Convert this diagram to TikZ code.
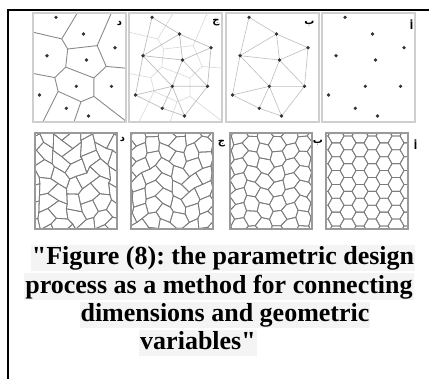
\documentclass[tikz,border=0pt]{standalone}
\usepackage{fontspec}
\setmainfont{Liberation Serif}[Ligatures=TeXOff]
\newfontfamily\arabicfont[Script=Arabic]{DejaVu Sans}
\TeXXeTstate=1
\frenchspacing
\definecolor{pframeA}{HTML}{CFCFCF}
\definecolor{pframeB}{HTML}{9A9A9A}
\definecolor{celline}{HTML}{7C7C7C}
\definecolor{vorline}{HTML}{8A8A8A}
\definecolor{delline}{HTML}{BDBDBD}
\definecolor{vorlight}{HTML}{DCDCDC}
\definecolor{dotcol}{HTML}{333333}
\definecolor{capfill}{HTML}{F4F4F4}
\tikzset{
  toppanel/.style={draw=pframeA,line width=1.1pt},
  botpanel/.style={draw=pframeB,line width=1.2pt},
  cell/.style={draw=celline,line width=0.8pt,line join=round},
  vorA/.style={draw=vorline,line width=0.9pt},
  vorB/.style={draw=vorlight,line width=0.7pt},
  delB/.style={draw=delline,line width=0.7pt},
  delC/.style={draw=delline,line width=0.6pt},
  dotty/.style={fill=dotcol},
  arlabel/.style={font=\arabicfont\bfseries\fontsize{10}{11}\selectfont,inner sep=0pt},
  capline/.style={font=\bfseries\fontsize{26}{28}\selectfont,fill=capfill,inner xsep=1pt,inner ysep=0pt,text height=20pt,text depth=6.5pt,anchor=base},
  border/.style={draw=black,line width=1.8pt}
}
% ---------- Voronoi / Delaunay data ----------
\newcommand\vorpts[1]{%
 \coordinate (#1p1) at (23,4.3);
 \coordinate (#1p2) at (50.5,21);
 \coordinate (#1p3) at (82,34.7);
 \coordinate (#1p4) at (14,42.7);
 \coordinate (#1p5) at (53.5,47);
 \coordinate (#1p6) at (43.3,73.3);
 \coordinate (#1p7) at (78.5,73.3);
 \coordinate (#1p8) at (6.5,82);
 \coordinate (#1p9) at (33.3,95.3);
 \coordinate (#1p10) at (55.5,103);
 \coordinate (#1c1) at (28.7,25.9);
 \coordinate (#1c2) at (34.7,36.0);
 \coordinate (#1c3) at (64.2,32.6);
 \coordinate (#1c4) at (73.2,53.4);
 \coordinate (#1c5) at (32.7,54.1);
 \coordinate (#1c6) at (60.9,65.0);
 \coordinate (#1c7) at (21.8,64.6);
 \coordinate (#1c8) at (25.1,78.3);
 \coordinate (#1c9) at (48.0,88.7);
 \coordinate (#1c10) at (60.9,83.4);
 \coordinate (#1r1) at (48.7,-7.1);
 \coordinate (#1r2) at (-9.7,16.9);
 \coordinate (#1r3) at (80.6,-5.2);
 \coordinate (#1r4) at (111.8,56.9);
 \coordinate (#1r5) at (105.5,117.9);
 \coordinate (#1r6) at (38.8,115.3);
 \coordinate (#1r7) at (5.15,118.5);
 \coordinate (#1r8) at (-17.5,57.1);
}
\newcommand\voredges[2]{%
 \draw[#2] (#1c1)--(#1c2) (#1c2)--(#1c3) (#1c3)--(#1c4) (#1c2)--(#1c5)
  (#1c5)--(#1c6) (#1c4)--(#1c6) (#1c5)--(#1c7) (#1c7)--(#1c8) (#1c6)--(#1c10)
  (#1c8)--(#1c9) (#1c9)--(#1c10)
  (#1c1)--(#1r1) (#1c1)--(#1r2) (#1c3)--(#1r3) (#1c4)--(#1r4) (#1c10)--(#1r5)
  (#1c9)--(#1r6) (#1c8)--(#1r7) (#1c7)--(#1r8);}
\newcommand\deledges[2]{%
 \draw[#2] (#1p1)--(#1p2) (#1p2)--(#1p3) (#1p3)--(#1p7) (#1p7)--(#1p10)
  (#1p10)--(#1p9) (#1p9)--(#1p8) (#1p8)--(#1p4) (#1p4)--(#1p1)
  (#1p2)--(#1p4) (#1p2)--(#1p5) (#1p3)--(#1p5) (#1p4)--(#1p5) (#1p5)--(#1p6)
  (#1p5)--(#1p7) (#1p4)--(#1p6) (#1p6)--(#1p8) (#1p6)--(#1p7) (#1p6)--(#1p9)
  (#1p6)--(#1p10);}
\newcommand\vordots[1]{%
 \foreach \k in {1,...,10} {\fill[dotty] (#1p\k) circle (1.8);}}
% ---------- jittered hexagon cells ----------
\newcommand\hzjit[2]{%
 \pgfmathsetmacro\hzjx{(#1)*\hzhu + \hzamp*sin(437.5453*sin((#1)*127.1+(#2)*311.7+\hzseed))}%
 \pgfmathsetmacro\hzjy{(#2)*\hzhv + \hzamp*sin(291.3711*sin((#1)*269.5+(#2)*183.3+\hzseed))}%
}
\newcommand\hzcell[2]{%
 \pgfmathtruncatemacro\hzcx{3*#1}%
 \pgfmathtruncatemacro\hzcy{2*#2+mod(#1,2)}%
 \pgfmathtruncatemacro\hzXa{\hzcx+2}%
 \pgfmathtruncatemacro\hzXb{\hzcx+1}%
 \pgfmathtruncatemacro\hzXc{\hzcx-1}%
 \pgfmathtruncatemacro\hzXd{\hzcx-2}%
 \pgfmathtruncatemacro\hzYa{\hzcy+1}%
 \pgfmathtruncatemacro\hzYb{\hzcy-1}%
 \hzjit{\hzXa}{\hzcy}\let\hzax\hzjx\let\hzay\hzjy
 \hzjit{\hzXb}{\hzYa}\let\hzbx\hzjx\let\hzby\hzjy
 \hzjit{\hzXc}{\hzYa}\let\hzccx\hzjx\let\hzccy\hzjy
 \hzjit{\hzXd}{\hzcy}\let\hzdx\hzjx\let\hzdy\hzjy
 \hzjit{\hzXc}{\hzYb}\let\hzex\hzjx\let\hzey\hzjy
 \hzjit{\hzXb}{\hzYb}\let\hzfx\hzjx\let\hzfy\hzjy
 \draw[cell] (\hzax,\hzay) -- (\hzbx,\hzby) -- (\hzccx,\hzccy) -- (\hzdx,\hzdy)
   -- (\hzex,\hzey) -- (\hzfx,\hzfy) -- cycle;}
\newcommand\hzpanel[6]{% x0, y0, R, amp, seed, grid offset x
 \begin{scope}[shift={(#1,#2)}]
  \begin{scope}
   \clip (0,0) rectangle (82,96);
   \pgfmathsetmacro\hzhu{#3/2}%
   \pgfmathsetmacro\hzhv{0.8660254*#3}%
   \def\hzamp{#4}\def\hzseed{#5}%
   \begin{scope}[shift={(#6,-4)}]
    \foreach \i in {0,...,8} {\foreach \j in {0,...,8} {\hzcell{\i}{\j}}}
   \end{scope}
  \end{scope}
  \draw[botpanel] (0,0) rectangle (82,96);
 \end{scope}}

\begin{document}
\begin{tikzpicture}[x=1pt,y=-1pt]
\useasboundingbox (0,0) rectangle (430,378);
% outer borders
\coordinate (bl) at (7.8,378);
\coordinate (tl) at (7.8,9.6);
\coordinate (tr) at (428,9.6);
\draw[border,line cap=rect] (bl) -- (tl) -- (tr);

% ---------- top row ----------
% panel d : Voronoi
\begin{scope}[shift={(33,13)}]
 \vorpts{A}
 \begin{scope}\clip (0,0) rectangle (93,109); \voredges{A}{vorA} \end{scope}
 \vordots{A}
 \draw[toppanel] (0,0) rectangle (93,109);
\end{scope}
% panel j : Delaunay + Voronoi
\begin{scope}[shift={(129,13)}]
 \vorpts{B}
 \begin{scope}\clip (0,0) rectangle (93,109); \voredges{B}{vorB} \end{scope}
 \deledges{B}{delB}
 \vordots{B}
 \draw[toppanel] (0,0) rectangle (93,109);
\end{scope}
% panel b : Delaunay
\begin{scope}[shift={(226,13)}]
 \vorpts{C}
 \deledges{C}{delC}
 \vordots{C}
 \draw[toppanel] (0,0) rectangle (93,109);
\end{scope}
% panel a : points
\begin{scope}[shift={(322,13)}]
 \vorpts{D}
 \vordots{D}
 \draw[toppanel] (0,0) rectangle (93,109);
\end{scope}
\node[arlabel] (ld1) at (119.5,24) {\beginR د\endR};
\node[arlabel] (lj1) at (216,23) {\beginR ج\endR};
\node[arlabel] (lb1) at (309.5,24) {\beginR ب\endR};
\node[arlabel] (la1) at (411.5,25) {\beginR أ\endR};

% ---------- bottom row ----------
\hzpanel{35}{133}{9.4}{3.3}{17}{-3}
\hzpanel{131}{133}{8.8}{2.1}{53}{-5}
\hzpanel{230}{133}{8.6}{1.1}{91}{-4}
\hzpanel{326}{133}{8}{0}{0}{-2}
\node[arlabel] (ld2) at (122.5,140) {\beginR د\endR};
\node[arlabel] (lj2) at (221.5,144) {\beginR ج\endR};
\node[arlabel] (lb2) at (318,143) {\beginR ب\endR};
\node[arlabel] (la2) at (415.5,145) {\beginR أ\endR};

% ---------- caption ----------
\node[capline] (cap1) at (223,264.5) {"Figure (8): the parametric design};
\node[capline] (cap2) at (219,293) {process as a method for connecting};
\node[capline] (cap3) at (225,321.5) {dimensions and geometric};
\node[capline] (cap4) at (198,349.5) {variables"};
\end{tikzpicture}
\end{document}
